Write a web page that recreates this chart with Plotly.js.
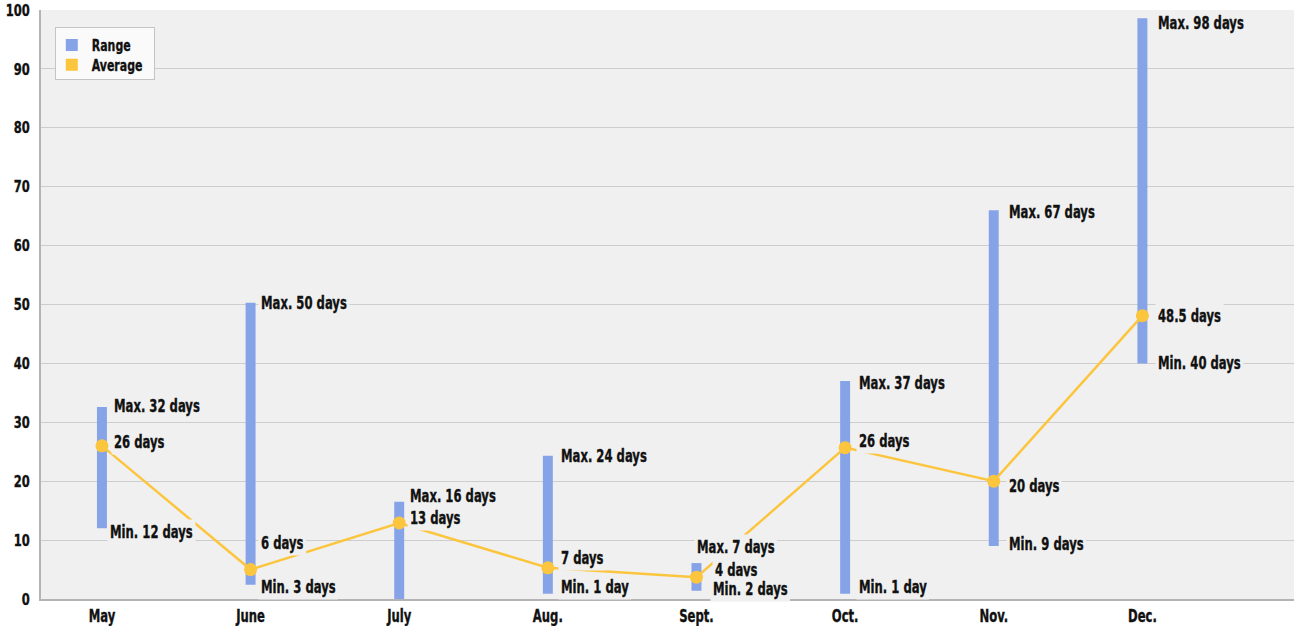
<!DOCTYPE html>
<html>
<head>
<meta charset="utf-8">
<script src="https://cdn.plot.ly/plotly-3.0.1.min.js"></script>
<style>html,body{margin:0;padding:0;background:#fff;}#chart{width:1294px;height:626px;}</style>
</head>
<body>
<div id="chart"></div>
<script>
// ---- data ----
const months = ["May", "June", "July", "Aug.", "Sept.", "Oct.", "Nov.", "Dec."];
const rangeMin = [12, 2.4, 0, 0.9, 1.4, 0.9, 9, 40];
const rangeMax = [32.6, 50.3, 16.5, 24.3, 6.1, 37, 66, 98.6];
const average = [26, 5, 12.9, 5.3, 3.7, 25.7, 20, 48.1];
const yTicks = [0, 10, 20, 30, 40, 50, 60, 70, 80, 90, 100];
const maxLabels = ["Max. 32 days", "Max. 50 days", "Max. 16 days", "Max. 24 days", "Max. 7 days", "Max. 37 days", "Max. 67 days", "Max. 98 days"];
const avgLabels = ["26 days", "6 days", "13 days", "7 days", "4 days", "26 days", "20 days", "48.5 days"];
const minLabels = ["Min. 12 days", "Min. 3 days", "", "Min. 1 day", "Min. 2 days", "Min. 1 day", "Min. 9 days", "Min. 40 days"];

// ---- label placement (pixel nudges, style only) ----
const maxShift = [[9, 1], [7, 0], [8, 6], [10, 0], [-2, 16], [11, -2], [12, -2], [13, -5]];
const avgShift = [[9, 4], [7, 27], [8, 5], [10, 10], [16, 7], [11, 7], [12, -5], [13, 0]];
const minShift = [[5, -4], [7, -2], [8, 0], [10, 7], [14, 2], [11, 7], [12, 2], [13, 0]];

const xs = months.map((m, i) => i);
const FONT = "DejaVu Sans Condensed, DejaVu Sans, sans-serif";
const BLUE = "#87a3e8";
const YELLOW = "#fcc53e";
const PLOTBG = "#f0f0f0";
const SQUEEZE = 0.76;

const traces = [
  {
    type: "bar",
    name: "Range",
    x: xs,
    base: rangeMin,
    y: rangeMax.map((v, i) => v - rangeMin[i]),
    width: 0.067,
    marker: {color: BLUE},
    hoverinfo: "skip"
  },
  {
    type: "bar",
    name: "Average",
    x: [null],
    y: [null],
    marker: {color: YELLOW},
    hoverinfo: "skip"
  },
  {
    type: "scatter",
    mode: "lines+markers",
    name: "Average line",
    showlegend: false,
    x: xs,
    y: average,
    line: {color: YELLOW, width: 2.5},
    marker: {color: YELLOW, size: 13},
    hoverinfo: "skip"
  }
];

const annotations = [];
function addLabels(texts, vals, shifts) {
  texts.forEach((t, i) => {
    if (!t) return;
    annotations.push({
      x: xs[i], y: vals[i], xref: "x", yref: "y",
      text: t, showarrow: false, align: "left",
      xanchor: "left", yanchor: "middle",
      xshift: shifts[i][0], yshift: shifts[i][1],
      bgcolor: PLOTBG, borderpad: 2,
      font: {family: FONT, size: 17, color: "#111", weight: "bold"}
    });
  });
}
addLabels(maxLabels, rangeMax, maxShift);
addLabels(avgLabels, average, avgShift);
addLabels(minLabels, rangeMin, minShift);

const layout = {
  width: 1294, height: 626,
  margin: {l: 41, r: 0, t: 10, b: 27, pad: 0},
  paper_bgcolor: "#ffffff",
  plot_bgcolor: PLOTBG,
  barmode: "overlay",
  showlegend: true,
  legend: {
    x: 0.011, y: 0.971, xanchor: "left", yanchor: "top",
    bgcolor: "#fafafa", bordercolor: "#c4c4c4", borderwidth: 1,
    font: {family: FONT, size: 16, color: "#111", weight: "bold"},
    tracegroupgap: 0, itemwidth: 30
  },
  xaxis: {
    range: [-0.41, 8.02],
    tickmode: "array", tickvals: xs, ticktext: months,
    showgrid: false, zeroline: false,
    showline: true, linecolor: "#b4b4b4", linewidth: 2,
    ticks: "", ticklabelstandoff: 1,
    tickfont: {family: FONT, size: 17, color: "#111", weight: "bold"}
  },
  yaxis: {
    range: [0, 100],
    tickmode: "array", tickvals: yTicks, ticktext: yTicks.map(String),
    gridcolor: "#cdcdcd", gridwidth: 1, zeroline: false,
    showline: true, linecolor: "#b4b4b4", linewidth: 2,
    ticks: "", ticklabelstandoff: 6,
    tickfont: {family: FONT, size: 16, color: "#111", weight: "bold"}
  },
  annotations: annotations
};

Plotly.newPlot("chart", traces, layout, {displayModeBar: false, staticPlot: true}).then(gd => {
  // condense all text to mimic a narrow heavy face
  gd.querySelectorAll("svg text").forEach(t => {
    const len = t.getComputedTextLength();
    if (!len) return;
    const sq = t.closest(".ytick") ? 0.8 : SQUEEZE;
    t.setAttribute("textLength", (len * sq).toFixed(2));
    t.setAttribute("lengthAdjust", "spacingAndGlyphs");
    t.style.stroke = "#111";
    t.style.strokeWidth = "0.35px";
    t.dataset.saved = len * (1 - sq);
  });
  // shrink annotation backgrounds to fit condensed text
  gd.querySelectorAll("g.annotation").forEach(a => {
    const rect = a.querySelector("rect.bg");
    const t = a.querySelector("text");
    if (!rect || !t || !t.dataset.saved) return;
    const w = parseFloat(rect.getAttribute("width"));
    rect.setAttribute("width", (w - parseFloat(t.dataset.saved)).toFixed(2));
  });
  // tighten legend box
  const lg = gd.querySelector("g.legend");
  if (lg) {
    let saved = 0;
    lg.querySelectorAll("text").forEach(t => { saved = Math.max(saved, parseFloat(t.dataset.saved || 0)); });
    const dx = 4;
    lg.querySelectorAll("g.traces").forEach((g, i) => {
      const m = /translate\(\s*([-\d.]+)[ ,]+([-\d.]+)\s*\)/.exec(g.getAttribute("transform") || "");
      if (m) g.setAttribute("transform", `translate(${parseFloat(m[1]) - dx},${parseFloat(m[2]) - i * 4})`);
    });
    const bg = lg.querySelector("rect.bg");
    if (bg) {
      bg.setAttribute("width", (parseFloat(bg.getAttribute("width")) - saved + 2).toFixed(2));
      bg.setAttribute("height", (parseFloat(bg.getAttribute("height")) - 7).toFixed(2));
    }
  }
});
</script>
</body>
</html>
